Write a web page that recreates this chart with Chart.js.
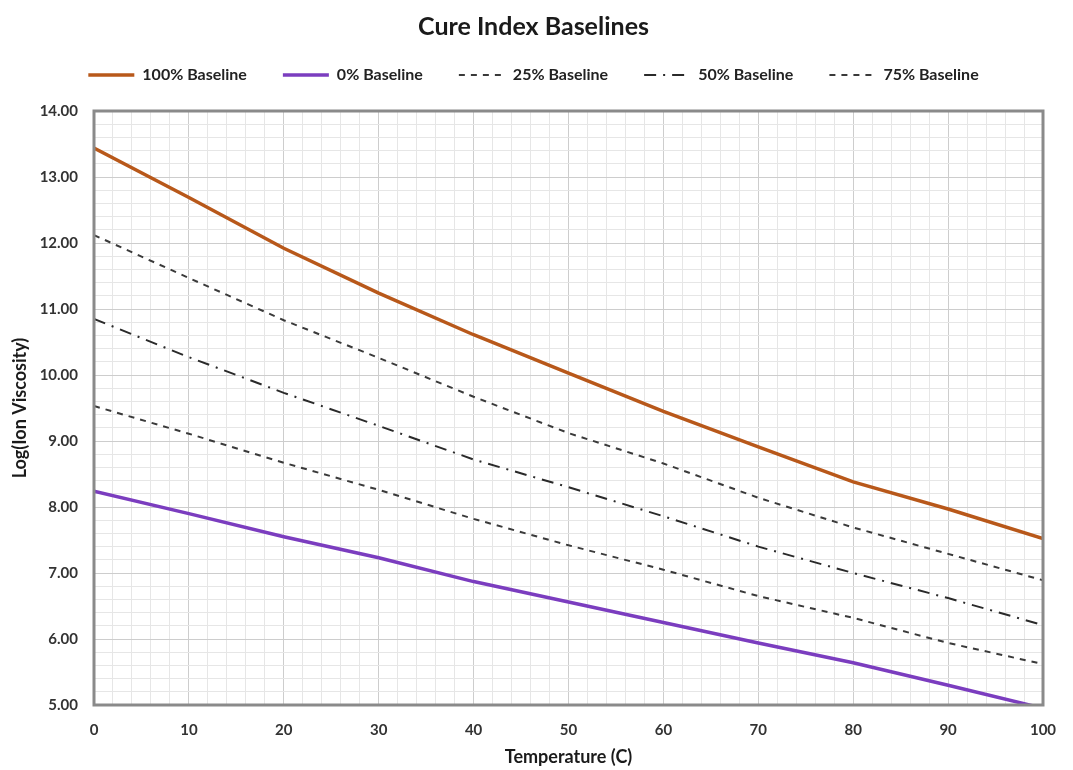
<!DOCTYPE html>
<html>
<head>
<meta charset="utf-8">
<script src="https://cdn.jsdelivr.net/npm/chart.js@4/dist/chart.umd.min.js"></script>
<style>
  html, body { margin: 0; padding: 0; background: #fff; }
  #wrap { width: 1073px; height: 770px; }
</style>
</head>
<body>
<div id="wrap"><canvas id="chart" width="1073" height="770"></canvas></div>
<script>
// temperatures (C)
const temps = [0, 10, 20, 30, 40, 50, 60, 70, 80, 90, 100];

// log(ion viscosity)
const base100 = [13.44, 12.69, 11.92, 11.24, 10.61, 10.03, 9.45, 8.91, 8.38, 7.97, 7.52];
const base0   = [8.24, 7.90, 7.55, 7.23, 6.87, 6.56, 6.25, 5.94, 5.64, 5.30, 4.95];
const base25  = [12.12, 11.47, 10.83, 10.26, 9.67, 9.12, 8.66, 8.14, 7.69, 7.29, 6.89];
const base50  = [10.85, 10.27, 9.73, 9.23, 8.72, 8.30, 7.86, 7.40, 7.00, 6.62, 6.21];
const base75  = [9.53, 9.11, 8.67, 8.26, 7.82, 7.42, 7.05, 6.65, 6.32, 5.94, 5.62];

const xTicks = [0, 10, 20, 30, 40, 50, 60, 70, 80, 90, 100];
const yTicks = [5, 6, 7, 8, 9, 10, 11, 12, 13, 14];

const FONT = 'Lato, "Open Sans", sans-serif';

function toPoints(values) {
    return values.map((v, i) => ({ x: temps[i], y: v }));
}

function isMajorY(v) {
    return yTicks.some(t => Math.abs(t - v) < 1e-6);
}

// extra space under the legend
const legendMargin = {
    id: 'legendMargin',
    beforeInit(chart) {
        const fit = chart.legend.fit;
        chart.legend.fit = function () {
            fit.bind(chart.legend)();
            this.height += 18;
        };
    }
};

// grey frame round the plot area
const plotFrame = {
    id: 'plotFrame',
    afterDraw(chart) {
        const { ctx, chartArea: a } = chart;
        ctx.save();
        ctx.strokeStyle = '#8a8a8a';
        ctx.lineWidth = 3;
        ctx.strokeRect(a.left, a.top, a.right - a.left, a.bottom - a.top);
        ctx.restore();
    }
};

const ctx = document.getElementById('chart').getContext('2d');
new Chart(ctx, {
    type: 'line',
    data: {
        datasets: [
            {
                label: '100% Baseline',
                data: toPoints(base100),
                borderColor: '#b8581a',
                backgroundColor: '#b8581a',
                borderWidth: 3.5,
            },
            {
                label: '0% Baseline',
                data: toPoints(base0),
                borderColor: '#7b3dbf',
                backgroundColor: '#7b3dbf',
                borderWidth: 3.5,
            },
            {
                label: '25% Baseline',
                data: toPoints(base25),
                borderColor: '#3a3a3a',
                backgroundColor: '#3a3a3a',
                borderWidth: 2,
                borderDash: [6, 6],
            },
            {
                label: '50% Baseline',
                data: toPoints(base50),
                borderColor: '#2a2a2a',
                backgroundColor: '#2a2a2a',
                borderWidth: 2,
                borderDash: [12, 7, 2, 7],
            },
            {
                label: '75% Baseline',
                data: toPoints(base75),
                borderColor: '#3a3a3a',
                backgroundColor: '#3a3a3a',
                borderWidth: 2,
                borderDash: [6, 6],
            }
        ]
    },
    options: {
        responsive: false,
        animation: false,
        clip: 0,
        elements: {
            point: { radius: 0 },
            line: { tension: 0 }
        },
        layout: { padding: { top: 4, right: 6, bottom: 0, left: 0 } },
        plugins: {
            title: {
                display: true,
                text: 'Cure Index Baselines',
                color: '#1a1a1a',
                font: { family: FONT, size: 25, weight: 'bold' },
                padding: { top: 8, bottom: -11 }
            },
            legend: {
                display: true,
                position: 'top',
                labels: {
                    usePointStyle: true,
                    pointStyle: 'line',
                    pointStyleWidth: 46,
                    padding: 36,
                    color: '#222',
                    font: { family: FONT, size: 16, weight: 'bold' },
                    generateLabels(chart) {
                        const items = Chart.defaults.plugins.legend.labels.generateLabels(chart);
                        items.forEach(item => {
                            const ds = chart.data.datasets[item.datasetIndex];
                            item.lineDash = ds.borderDash || [];
                            item.lineWidth = ds.borderWidth;
                            item.strokeStyle = ds.borderColor;
                        });
                        return items;
                    }
                }
            },
            tooltip: { enabled: false }
        },
        scales: {
            x: {
                type: 'linear',
                min: 0,
                max: 100,
                afterFit(scale) { scale.height = 65; },
                title: {
                    display: true,
                    text: 'Temperature (C)',
                    color: '#1a1a1a',
                    font: { family: FONT, size: 18, weight: 'bold' },
                    padding: { top: 4, bottom: 2 }
                },
                ticks: {
                    stepSize: 2,
                    autoSkip: false,
                    maxRotation: 0,
                    padding: 16,
                    color: '#333',
                    font: { family: FONT, size: 15, weight: 'bold' },
                    callback: v => (xTicks.includes(v) ? String(v) : '')
                },
                grid: {
                    drawTicks: false,
                    lineWidth: 1,
                    color: c => (xTicks.includes(c.tick && c.tick.value) ? '#cdcdcd' : '#e6e6e6')
                },
                border: { display: false }
            },
            y: {
                min: 5,
                max: 14,
                afterFit(scale) { scale.width = 94; },
                title: {
                    display: true,
                    text: 'Log(Ion Viscosity)',
                    color: '#1a1a1a',
                    font: { family: FONT, size: 18, weight: 'bold' },
                    padding: { top: 9, bottom: 0 }
                },
                ticks: {
                    stepSize: 0.2,
                    autoSkip: false,
                    padding: 16,
                    color: '#333',
                    font: { family: FONT, size: 15, weight: 'bold' },
                    callback: v => (isMajorY(v) ? Math.round(v).toFixed(2) : '')
                },
                grid: {
                    drawTicks: false,
                    lineWidth: 1,
                    color: c => (c.tick && isMajorY(c.tick.value) ? '#cdcdcd' : '#e6e6e6')
                },
                border: { display: false }
            },
            // empty right-hand axis, only keeps a margin right of the plot
            yRight: {
                position: 'right',
                min: 5,
                max: 14,
                afterFit(scale) { scale.width = 24; },
                ticks: { display: false },
                grid: { display: false, drawOnChartArea: false },
                border: { display: false }
            }
        }
    },
    plugins: [legendMargin, plotFrame]
});
</script>
</body>
</html>
